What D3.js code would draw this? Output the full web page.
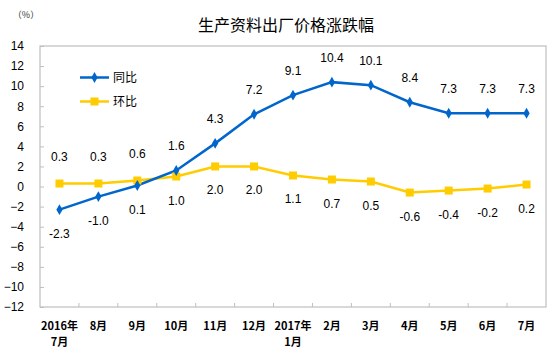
<!DOCTYPE html>
<html><head><meta charset="utf-8">
<script src="https://cdn.jsdelivr.net/npm/d3@7"></script>
<style>
body{margin:0;background:#fff;}
text{font-family:"Liberation Sans",Arial,"Noto Sans CJK SC",sans-serif;}
</style></head>
<body><svg id="c" width="556" height="356"></svg>
<script>
const categories = [["2016年","7月"],["8月"],["9月"],["10月"],["11月"],["12月"],["2017年","1月"],["2月"],["3月"],["4月"],["5月"],["6月"],["7月"]];
const yoy = [-2.3,-1.0,0.1,1.6,4.3,7.2,9.1,10.4,10.1,8.4,7.3,7.3,7.3];
const mom = [0.3,0.3,0.6,1.0,2.0,2.0,1.1,0.7,0.5,-0.6,-0.4,-0.2,0.2];
const yTicks = [-12,-10,-8,-6,-4,-2,0,2,4,6,8,10,12,14];
const seriesNames = ["同比","环比"];
const title = "生产资料出厂价格涨跌幅";
const unit = "（%）";

const svg = d3.select("#c");
const L=40, R=546, T=46, B=307;
const x = d3.scaleBand().domain(d3.range(categories.length)).range([L,R]);
const y = d3.scaleLinear().domain([-12,14]).range([B,T]);
const blue="#0066CC", yellow="#FFCC00";
const cjk='"Noto Sans CJK SC",sans-serif';

svg.append("text").attr("x",286).attr("y",31).attr("text-anchor","middle")
  .style("font-family",cjk).style("font-size","16px").attr("fill","#000").text(title);
svg.append("text").attr("x",26).attr("y",18).attr("text-anchor","middle")
  .style("font-family",cjk).style("font-size","9px").attr("fill","#333").text(unit);

// frame
svg.append("rect").attr("x",L).attr("y",T).attr("width",R-L).attr("height",B-T)
  .attr("fill","none").attr("stroke","#BFBFBF").attr("stroke-width",1.2);

// y axis
const ya = svg.append("g").attr("transform",`translate(${L},0)`)
  .call(d3.axisLeft(y).tickValues(yTicks).tickSize(-4).tickPadding(16).tickFormat(d3.format("d")));
ya.select(".domain").remove();
ya.selectAll("line").attr("stroke","#BFBFBF");
ya.selectAll("text").style("font-size","12px").attr("fill","#000");

// x axis ticks at band boundaries
const bounds = d3.range(1,categories.length).map(i=>x(i));
svg.append("g").selectAll("line").data(bounds).join("line")
  .attr("x1",d=>d).attr("x2",d=>d).attr("y1",B).attr("y2",B-4).attr("stroke","#BFBFBF");
const xl = svg.append("g").selectAll("text").data(categories).join("text")
  .attr("text-anchor","middle").attr("x",(d,i)=>x(i)+x.bandwidth()/2)
  .attr("y",330).style("font-family",cjk).style("font-size","11px").style("font-weight","bold").attr("fill","#000");
xl.selectAll("tspan").data(d=>d).join("tspan")
  .attr("x",function(){return this.parentNode.getAttribute("x");})
  .attr("dy",(d,i)=>i?16:0).text(d=>d);

const cx = i=>x(i)+x.bandwidth()/2;
const line = d3.line().x((d,i)=>cx(i)).y(d=>y(d));

svg.append("path").datum(mom).attr("d",line).attr("fill","none").attr("stroke",yellow).attr("stroke-width",2.5);
svg.append("path").datum(yoy).attr("d",line).attr("fill","none").attr("stroke",blue).attr("stroke-width",2.5);

svg.append("g").selectAll("rect").data(mom).join("rect")
  .attr("x",(d,i)=>cx(i)-4).attr("y",d=>y(d)-4).attr("width",8).attr("height",8).attr("fill",yellow);
const diamond = d3.symbol().type(d3.symbolDiamond).size(34);
svg.append("g").selectAll("path").data(yoy).join("path")
  .attr("d",diamond).attr("transform",(d,i)=>`translate(${cx(i)},${y(d)})`).attr("fill",blue);

// data labels
const off = 24;
svg.append("g").selectAll("text").data(yoy).join("text")
  .attr("x",(d,i)=>cx(i)).attr("y",(d,i)=>y(d)+(i<3?off:-off)+4).attr("text-anchor","middle")
  .style("font-size","12px").attr("fill","#000").text(d=>d.toFixed(1));
svg.append("g").selectAll("text").data(mom).join("text")
  .attr("x",(d,i)=>cx(i)).attr("y",(d,i)=>y(d)+(i<3?-off-3:off)+4).attr("text-anchor","middle")
  .style("font-size","12px").attr("fill","#000").text(d=>d.toFixed(1));

// legend
const leg = svg.append("g");
[[blue,77.5,"d"],[yellow,101.5,"s"]].forEach((s,k)=>{
  leg.append("line").attr("x1",80).attr("x2",109).attr("y1",s[1]).attr("y2",s[1]).attr("stroke",s[0]).attr("stroke-width",2.5);
  if(s[2]==="d") leg.append("path").attr("d",diamond).attr("transform",`translate(94.5,${s[1]})`).attr("fill",s[0]);
  else leg.append("rect").attr("x",90.5).attr("y",s[1]-4).attr("width",8).attr("height",8).attr("fill",s[0]);
  leg.append("text").attr("x",113).attr("y",s[1]+4.5).style("font-family",cjk).style("font-size","12px").attr("fill","#000").text(seriesNames[k]);
});
</script></body></html>
